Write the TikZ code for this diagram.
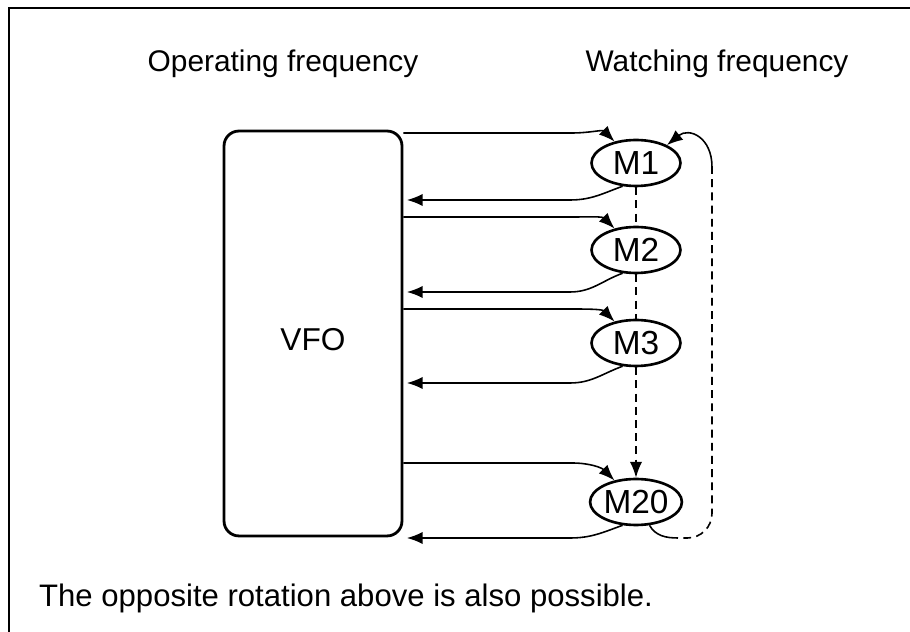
\documentclass[tikz,border=0pt]{standalone}
\usepackage{fontspec}
\setmainfont{Liberation Sans}
\usetikzlibrary{arrows.meta, positioning, shapes.geometric}

\begin{document}
\begin{tikzpicture}[
      x=0.02cm, y=0.02cm,
      lbl/.style={font=\fontsize{17}{20}\selectfont, anchor=base},
      mem/.style={draw, ellipse, line width=1.5pt, inner sep=0pt, minimum width=1.78cm, minimum height=0.92cm, font=\fontsize{19}{21}\selectfont},
      ar/.style={-{Latex[length=9pt, width=7pt]}, line width=0.9pt},
      ln/.style={line width=0.9pt},
      dsh/.style={line width=0.9pt, dash pattern=on 4.5pt off 3pt}
    ]
    \useasboundingbox (0,0) rectangle (910,632);
    \draw[line width=0.9pt] (9,0) -- (9,624) -- (910,624);
    \node[lbl] (op) at (283,560) {Operating frequency};
    \node[lbl] (wa) at (717,560) {Watching frequency};
    \node[draw, rounded corners=8.5pt, line width=1.6pt, minimum width=3.56cm, minimum height=8.1cm, text height=20pt, font=\fontsize{18}{20}\selectfont] (vfo) at (313,298.5) {VFO};
    \node[mem] (m1) at (636,469) {M1};
    \node[mem] (m2) at (636,382) {M2};
    \node[mem] (m3) at (636,289) {M3};
    \node[mem] (m20) at (636,130) {M20};
    % out / back levels
    \coordinate (o1) at (572,499); \coordinate (r1) at (570,432);
    \coordinate (o2) at (572,415); \coordinate (r2) at (570,340);
    \coordinate (o3) at (572,323); \coordinate (r3) at (570,249);
    \coordinate (o20) at (572,169); \coordinate (r20) at (570,94);
    \draw[ar] (vfo.east |- o1) -- (o1) to[out=0, in=135] (m1.135);
    \draw[ar] (vfo.east |- o2) -- (o2) to[out=0, in=135] (m2.135);
    \draw[ar] (vfo.east |- o3) -- (o3) to[out=0, in=135] (m3.135);
    \draw[ar] (vfo.east |- o20) -- (o20) to[out=0, in=135] (m20.135);
    \draw[ar, shorten >=2pt] (m1.-120) to[out=200, in=0] (r1) -- (vfo.east |- r1);
    \draw[ar, shorten >=2pt] (m2.-120) to[out=200, in=0] (r2) -- (vfo.east |- r2);
    \draw[ar, shorten >=2pt] (m3.-120) to[out=200, in=0] (r3) -- (vfo.east |- r3);
    \draw[ar, shorten >=2pt] (m20.-120) to[out=200, in=0] (r20) -- (vfo.east |- r20);
    % memory scan
    \draw[dsh] (m1.south) -- (m2.north);
    \draw[dsh] (m2.south) -- (m3.north);
    \draw[dsh, -{Latex[length=9pt, width=7pt]}] (m3.south) -- (m20.north);
    \coordinate (lb) at (678,94);
    \coordinate (lt) at (712,465);
    \draw[ln] (m20.-60) to[out=-60, in=180] (lb);
    \draw[dsh, dash phase=4.5pt, rounded corners=14pt] (lb) -| (lt);
    \draw[ar] (lt) .. controls +(0,30) and +(22,18) .. (m1.30);
    \node[font=\fontsize{17.7}{20}\selectfont, anchor=base west] (note) at (33,25) {The opposite rotation above is also possible.};
  \end{tikzpicture}
\end{document}
